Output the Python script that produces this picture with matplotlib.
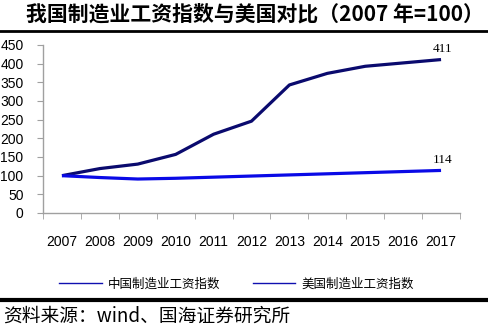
import numpy as np
import matplotlib
matplotlib.use("Agg")
import matplotlib.pyplot as plt
from matplotlib.lines import Line2D

plt.rcParams['font.family'] = ['Liberation Sans', 'Noto Sans CJK SC', 'DejaVu Sans']

# data
years = ['2007', '2008', '2009', '2010', '2011', '2012', '2013', '2014', '2015', '2016', '2017']
china = [100, 119, 131, 157, 211, 246, 343, 374, 393, 402, 411]
usa = [100, 95, 91, 93, 96, 99, 102, 105, 108, 111, 114]
names = ['中国制造业工资指数', '美国制造业工资指数']
colors = ['#0a0a6e', '#0a0ae6']

fig = plt.figure(figsize=(4.88, 3.29), dpi=100)
ax = fig.add_axes([43/488, 1-213/329, 417/488, 168/329])

x = np.arange(len(years))
ax.plot(x, china, color=colors[0], lw=2.3, solid_capstyle='butt')
ax.plot(x, usa, color=colors[1], lw=2.3, solid_capstyle='butt')

# end labels
ax.text(x[-1] + 0.05, china[-1] + 12, str(china[-1]), family='Liberation Serif',
        fontsize=9.5, ha='center', va='bottom')
ax.text(x[-1] + 0.05, usa[-1] + 12, str(usa[-1]), family='Liberation Serif',
        fontsize=9.5, ha='center', va='bottom')

ax.set_xlim(-0.5, len(years) - 0.5)
ax.set_ylim(0, 450)
ax.set_yticks(np.arange(0, 451, 50))
ax.tick_params(axis='y', labelsize=10, length=4, color='#a0a0a0', pad=10)
ax.set_xticks(x)
ax.set_xticklabels(years)
ax.tick_params(axis='x', which='major', length=0, labelsize=10, pad=16)
ax.set_xticks(np.arange(-0.5, len(years), 1), minor=True)
ax.tick_params(axis='x', which='minor', length=4, color='#a0a0a0')
for s in ['top', 'right']:
    ax.spines[s].set_visible(False)
for s in ['left', 'bottom']:
    ax.spines[s].set_color('#a0a0a0')
    ax.spines[s].set_linewidth(1.0)

# legend
handles = [Line2D([], [], color='#1010b0', lw=1.0) for _ in names]
fig.legend(handles, names, loc='center', bbox_to_anchor=(0.485, 1-284/329), ncol=2,
           frameon=False, handlelength=3.4, columnspacing=2.6,
           handletextpad=0.5, prop={'family': 'Noto Sans CJK SC', 'size': 9})

# title and rules
fig.text(0.522, 1-14/329, '我国制造业工资指数与美国对比（2007 年=100）', ha='center', va='center',
         fontsize=15, fontweight='bold', family=['Noto Sans CJK SC', 'DejaVu Sans'])
fig.add_artist(Line2D([0, 1], [1-31/329, 1-31/329], color='black', lw=2.0))
fig.add_artist(Line2D([0, 1], [1-300/329, 1-300/329], color='black', lw=3.0))
fig.text(3/488, 1-316/329, '资料来源：wind、国海证券研究所', ha='left', va='center',
         fontsize=13.5, family=['Noto Sans CJK SC', 'DejaVu Sans'])

fig.savefig('out.png', dpi=100)
